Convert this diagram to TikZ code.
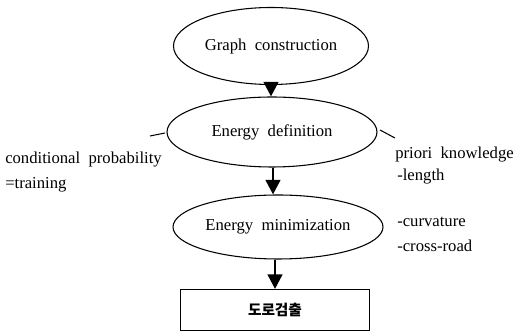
\documentclass[tikz,border=0pt]{standalone}
\usepackage{fontspec}
\setmainfont{Liberation Serif}
\newfontfamily\krfont{Noto Sans CJK KR}
\usetikzlibrary{shapes.geometric,arrows.meta}
\begin{document}
\begin{tikzpicture}[x=0.75pt,y=-0.75pt,
  every node/.style={font=\fontsize{12.5}{15}\selectfont},
  oval/.style={draw,ellipse,line width=0.8pt,inner sep=0pt},
  flow/.style={line width=2pt,-{Triangle[width=11pt,length=11pt]}},
  lbl/.style={anchor=west,inner sep=0pt},
  tick/.style={line width=0.8pt}]
\useasboundingbox (0,0) rectangle (519,334);
\node[oval,minimum width=146.25pt,minimum height=57.75pt] (g) at (271,46) {Graph \ construction};
\node[oval,minimum width=157.5pt,minimum height=52.5pt] (e) at (272,132) {Energy \ definition};
\node[oval,minimum width=157.5pt,minimum height=48pt] (m) at (278,227) {Energy \ minimization};
\node[draw,line width=0.8pt,minimum width=141.75pt,minimum height=30.75pt,inner sep=0pt] (r) at (275,310) {\krfont\bfseries\fontsize{11}{13}\selectfont 도로검출};
\draw[flow] (g.south) -- (g.south |- e.north);
\draw[flow] ([xshift=0.75pt]e.south) -- ([xshift=0.75pt]e.south |- m.north);
\draw[flow] ([xshift=-2.25pt]m.south) -- ([xshift=-2.25pt]m.south |- r.north);
\node[lbl] (cp) at (5,160) {conditional \ probability};
\node[lbl] (tr) at (5,185) {=training};
\node[lbl] (pk) at (395,155) {priori \ knowledge};
\node[lbl] (ln) at (397,177) {-length};
\node[lbl] (cv) at (397,222) {-curvature};
\node[lbl] (cr) at (397,246) {-cross-road};
\coordinate (l1) at (150,136);
\coordinate (l2) at (165,133);
\coordinate (r1) at (380,130);
\coordinate (r2) at (395,138);
\draw[tick] (l1) -- (l2);
\draw[tick] (r1) -- (r2);
\end{tikzpicture}
\end{document}
